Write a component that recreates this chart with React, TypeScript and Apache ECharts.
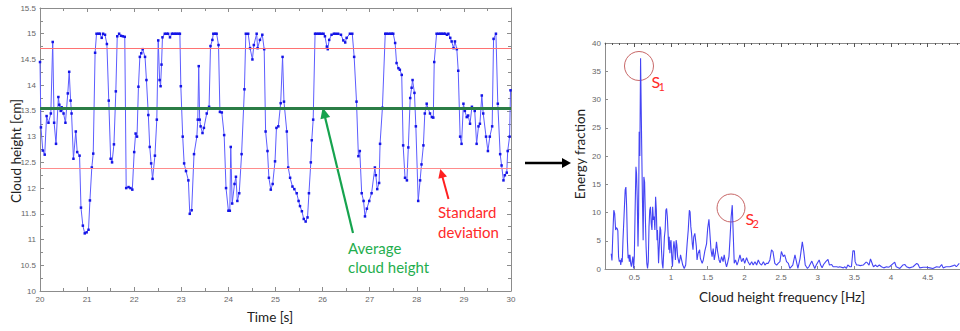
import React, { useEffect, useRef } from "react";
import * as echarts from "echarts";

// ---- Time series (left panel) ----
const time = [
  20.0, 20.02, 20.06, 20.1, 20.14, 20.18, 20.23, 20.27, 20.3, 20.34, 20.39, 20.41, 20.44, 20.46, 20.5, 20.54, 20.59, 20.62, 20.65, 20.67,
  20.71, 20.76, 20.79, 20.84, 20.87, 20.91, 20.95, 20.99, 21.03, 21.06, 21.1, 21.13, 21.17, 21.2, 21.24, 21.27, 21.31, 21.34, 21.38, 21.42,
  21.46, 21.5, 21.53, 21.57, 21.61, 21.64, 21.68, 21.72, 21.76, 21.8, 21.83, 21.88, 21.92, 21.96, 22.0, 22.03, 22.06, 22.09, 22.12, 22.15,
  22.18, 22.23, 22.26, 22.3, 22.33, 22.36, 22.39, 22.44, 22.48, 22.51, 22.54, 22.56, 22.58, 22.6, 22.65, 22.69, 22.72, 22.76, 22.8, 22.83,
  22.87, 22.9, 22.94, 22.97, 22.99, 23.03, 23.06, 23.1, 23.15, 23.18, 23.22, 23.27, 23.33, 23.35, 23.37, 23.39, 23.41, 23.45, 23.48, 23.54,
  23.59, 23.62, 23.66, 23.68, 23.72, 23.75, 23.79, 23.82, 23.86, 23.91, 23.95, 24.0, 24.03, 24.05, 24.08, 24.13, 24.16, 24.19, 24.23, 24.28,
  24.34, 24.37, 24.42, 24.46, 24.51, 24.54, 24.6, 24.62, 24.67, 24.72, 24.76, 24.79, 24.83, 24.86, 24.9, 24.94, 24.99, 25.02, 25.06, 25.11,
  25.15, 25.18, 25.24, 25.27, 25.31, 25.36, 25.4, 25.45, 25.49, 25.52, 25.56, 25.6, 25.64, 25.68, 25.71, 25.75, 25.77, 25.8, 25.84, 25.87,
  25.91, 25.94, 25.98, 26.02, 26.05, 26.09, 26.11, 26.14, 26.19, 26.24, 26.28, 26.33, 26.39, 26.44, 26.48, 26.51, 26.58, 26.63, 26.67, 26.72,
  26.76, 26.79, 26.83, 26.87, 26.9, 26.94, 26.99, 27.04, 27.11, 27.13, 27.16, 27.2, 27.22, 27.27, 27.33, 27.36, 27.4, 27.44, 27.47, 27.5,
  27.54, 27.57, 27.61, 27.64, 27.68, 27.71, 27.75, 27.79, 27.82, 27.86, 27.89, 27.91, 27.95, 27.98, 28.03, 28.07, 28.1, 28.14, 28.17, 28.21,
  28.24, 28.28, 28.32, 28.35, 28.37, 28.42, 28.46, 28.5, 28.53, 28.57, 28.6, 28.64, 28.67, 28.71, 28.74, 28.78, 28.81, 28.85, 28.88, 28.92,
  28.95, 28.99, 29.02, 29.06, 29.09, 29.13, 29.17, 29.23, 29.27, 29.31, 29.34, 29.38, 29.41, 29.47, 29.51, 29.55, 29.6, 29.63, 29.68, 29.72,
  29.77, 29.8, 29.84, 29.87, 29.91, 29.93, 29.97, 29.99,
];
const cloudHeight = [
  14.45, 13.18, 12.73, 12.65, 13.4, 13.27, 13.45, 14.84, 13.27, 12.86, 13.77, 13.62, 13.5, 13.57, 13.45, 13.27, 13.84, 14.26, 13.7, 13.45,
  12.57, 13.1, 12.7, 12.63, 11.62, 11.27, 11.12, 11.14, 11.19, 11.76, 12.4, 12.67, 14.63, 15.0, 15.0, 15.0, 14.92, 15.0, 14.98, 14.8,
  13.7, 12.57, 12.5, 12.85, 13.88, 14.95, 15.0, 14.96, 14.95, 14.94, 12.0, 12.02, 12.0, 11.97, 12.7, 13.06, 13.0, 13.97, 14.55, 14.62,
  14.7, 14.55, 14.1, 13.42, 12.8, 12.48, 12.18, 12.63, 13.33, 14.87, 14.1, 13.98, 14.4, 14.93, 15.0, 15.0, 15.0, 14.93, 15.0, 15.0,
  15.0, 15.0, 15.0, 15.0, 13.98, 13.0, 12.48, 12.33, 12.15, 11.5, 11.57, 12.66, 13.0, 13.33, 14.37, 13.33, 13.2, 13.07, 13.17, 13.45,
  13.58, 14.76, 14.88, 15.0, 15.0, 15.0, 14.78, 13.48, 13.47, 13.03, 12.0, 11.56, 11.56, 12.8, 11.7, 12.08, 12.22, 11.75, 11.9, 12.66,
  13.92, 15.0, 15.0, 14.72, 14.5, 14.78, 15.0, 14.72, 14.88, 14.98, 14.7, 13.1, 12.72, 12.2, 11.97, 12.08, 12.52, 13.17, 13.2, 13.65,
  14.55, 13.68, 13.1, 12.4, 12.2, 12.03, 11.98, 11.9, 11.75, 11.65, 11.55, 11.4, 11.35, 11.43, 11.9, 12.5, 12.93, 13.33, 15.0, 15.0,
  15.0, 15.0, 15.0, 15.0, 14.95, 14.75, 14.7, 14.88, 14.98, 15.0, 15.0, 15.0, 14.98, 14.87, 14.83, 14.92, 15.0, 15.0, 14.55, 13.68,
  12.62, 12.72, 11.9, 11.75, 11.45, 11.6, 11.75, 11.9, 12.4, 12.25, 11.98, 12.1, 12.86, 13.56, 15.0, 15.0, 15.0, 15.0, 15.0, 15.0,
  14.82, 14.43, 14.33, 14.3, 14.2, 12.83, 12.2, 12.15, 12.79, 13.75, 13.95, 14.1, 13.85, 13.2, 11.75, 12.15, 12.46, 12.83, 13.45, 13.64,
  13.55, 13.45, 13.38, 13.37, 14.45, 15.0, 15.0, 15.0, 15.0, 15.0, 15.0, 14.98, 15.0, 14.92, 14.85, 14.72, 14.85, 14.7, 14.28, 13.0,
  12.86, 13.64, 13.5, 13.38, 13.41, 13.25, 13.58, 13.5, 12.86, 13.2, 13.25, 13.8, 13.45, 13.0, 12.72, 13.0, 13.2, 14.9, 15.0, 13.64,
  12.66, 12.44, 12.15, 12.25, 12.3, 12.72, 13.0, 13.9,
];
const meanHeight = 13.55;
const stdLower = 12.39;
const stdUpper = 14.71;

// ---- Spectrum (right panel) ----
const frequency = [
  0.185, 0.195, 0.205, 0.22, 0.232, 0.245, 0.255, 0.265, 0.275, 0.285, 0.295, 0.305, 0.315, 0.325, 0.335, 0.345, 0.36, 0.375, 0.385, 0.395,
  0.405, 0.415, 0.425, 0.432, 0.44, 0.45, 0.46, 0.47, 0.48, 0.49, 0.5, 0.51, 0.522, 0.53, 0.54, 0.55, 0.558, 0.566, 0.575, 0.585,
  0.592, 0.6, 0.61, 0.62, 0.63, 0.64, 0.65, 0.66, 0.67, 0.68, 0.69, 0.7, 0.71, 0.72, 0.73, 0.74, 0.75, 0.76, 0.77, 0.78,
  0.79, 0.8, 0.81, 0.815, 0.825, 0.83, 0.84, 0.85, 0.86, 0.87, 0.88, 0.89, 0.9, 0.91, 0.92, 0.93, 0.94, 0.95, 0.96, 0.97,
  0.975, 0.985, 0.99, 1.0, 1.01, 1.02, 1.03, 1.04, 1.05, 1.06, 1.07, 1.08, 1.09, 1.1, 1.11, 1.12, 1.13, 1.14, 1.16, 1.17,
  1.18, 1.19, 1.2, 1.22, 1.235, 1.25, 1.26, 1.27, 1.28, 1.29, 1.3, 1.31, 1.325, 1.345, 1.355, 1.37, 1.39, 1.4, 1.425, 1.44,
  1.46, 1.485, 1.5, 1.517, 1.53, 1.545, 1.56, 1.575, 1.59, 1.605, 1.62, 1.635, 1.655, 1.67, 1.69, 1.71, 1.725, 1.745, 1.757, 1.77,
  1.79, 1.803, 1.82, 1.835, 1.848, 1.862, 1.88, 1.9, 1.916, 1.94, 1.962, 1.985, 2.005, 2.03, 2.05, 2.075, 2.1, 2.12, 2.145, 2.167,
  2.19, 2.21, 2.235, 2.26, 2.28, 2.3, 2.325, 2.348, 2.37, 2.39, 2.415, 2.44, 2.46, 2.485, 2.505, 2.53, 2.55, 2.575, 2.6, 2.62,
  2.66, 2.69, 2.71, 2.73, 2.76, 2.79, 2.81, 2.83, 2.86, 2.88, 2.92, 2.94, 2.96, 2.98, 3.02, 3.04, 3.06, 3.08, 3.11, 3.14,
  3.16, 3.19, 3.21, 3.26, 3.28, 3.3, 3.35, 3.37, 3.39, 3.41, 3.44, 3.46, 3.48, 3.5, 3.51, 3.53, 3.55, 3.58, 3.62, 3.66,
  3.67, 3.7, 3.72, 3.75, 3.76, 3.79, 3.81, 3.84, 3.87, 3.9, 3.94, 3.96, 3.98, 4.03, 4.05, 4.07, 4.12, 4.16, 4.19, 4.21,
  4.25, 4.3, 4.35, 4.37, 4.39, 4.44, 4.48, 4.53, 4.57, 4.62, 4.66, 4.69, 4.71, 4.75, 4.8, 4.85, 4.87, 4.89, 4.93,
];
const energyFraction = [
  2.7, 1.5, 5.5, 10.4, 9.8, 6.9, 7.3, 7.2, 6.8, 2.2, 1.3, 1.6, 0.7, 1.9, 1.2, 5.1, 9.5, 14.0, 14.5, 11.0,
  5.1, 1.9, 2.5, 1.3, 2.5, 1.0, 0.4, 1.3, 2.2, 0.1, 2.2, 10.0, 18.1, 16.9, 12.2, 4.0, 9.8, 24.3, 20.0, 37.3,
  30.0, 22.0, 12.8, 5.1, 16.3, 15.4, 9.2, 4.0, 1.0, 0.1, 1.3, 7.5, 10.4, 11.0, 8.1, 6.9, 11.0, 8.7, 9.3, 6.9,
  12.8, 10.4, 5.1, 6.9, 3.4, 1.0, 4.0, 7.5, 6.9, 3.4, 1.0, 0.1, 2.8, 5.7, 6.9, 10.4, 10.7, 9.2, 6.3, 3.4,
  5.7, 2.8, 4.5, 5.1, 2.2, 0.4, 3.4, 4.9, 3.7, 1.6, 5.1, 4.2, 2.2, 1.6, 1.0, 1.6, 2.5, 1.9, 0.7, 0.4,
  0.1, 0.4, 0.7, 4.5, 6.9, 10.4, 10.1, 7.5, 6.3, 4.5, 3.4, 5.7, 6.3, 4.0, 1.6, 2.8, 3.4, 1.9, 1.0, 1.6,
  3.1, 4.5, 7.2, 8.8, 6.3, 3.4, 2.2, 3.6, 1.6, 2.8, 4.8, 3.1, 1.6, 1.1, 2.2, 1.3, 2.5, 1.0, 0.4, 1.0,
  2.2, 5.1, 9.2, 11.3, 6.3, 1.0, 1.6, 0.7, 1.3, 2.5, 1.3, 1.9, 1.0, 2.0, 1.3, 0.7, 1.3, 0.7, 1.3, 0.7,
  1.6, 1.0, 0.7, 1.3, 0.7, 1.0, 1.0, 1.6, 3.4, 3.1, 1.0, 0.7, 1.0, 1.3, 3.1, 2.2, 2.5, 1.3, 1.0, 0.1,
  0.7, 2.5, 1.3, 0.1, 1.9, 4.8, 3.1, 0.7, 0.1, 0.4, 1.4, 0.7, 0.1, 0.7, 1.6, 0.7, 0.2, 0.8, 1.3, 1.7,
  0.7, 0.8, 0.4, 0.4, 0.3, 0.4, 0.2, 0.4, 0.1, 0.7, 0.4, 0.4, 3.2, 3.2, 1.3, 0.7, 0.7, 0.6, 0.7, 1.2,
  1.2, 0.7, 1.8, 0.7, 0.4, 0.7, 0.4, 0.7, 0.4, 0.2, 0.4, 0.3, 0.4, 1.0, 1.2, 0.4, 0.1, 0.7, 0.8, 0.4,
  0.2, 0.4, 1.0, 0.8, 0.2, 0.3, 0.3, 0.2, 0.1, 0.4, 0.3, 0.8, 0.2, 0.4, 0.4, 0.6, 0.7, 0.4, 1.0,
];
const freqLabelValues = [0.5, 1, 1.5, 2, 2.5, 3, 3.5, 4, 4.5];

const AXIS_GRAY = "#8c8c8c";
const LABEL_GRAY = "#666666";
const TITLE_FONT = "Lato";

function arrow(x1: number, y1: number, x2: number, y2: number, color: string, lw: number, hl: number, hw: number) {
  const dx = x2 - x1, dy = y2 - y1, L = Math.hypot(dx, dy);
  const ux = dx / L, uy = dy / L;
  const bx = x2 - ux * hl, by = y2 - uy * hl;
  return [
    { type: "line", silent: true, shape: { x1, y1, x2: bx + ux, y2: by + uy }, style: { stroke: color, lineWidth: lw } },
    {
      type: "polygon", silent: true,
      shape: { points: [[x2, y2], [bx - uy * hw, by + ux * hw], [bx + uy * hw, by - ux * hw]] },
      style: { fill: color },
    },
  ];
}

function txt(text: string, x: number, y: number, color: string, size: number, align = "left", rotation = 0) {
  return {
    type: "text", silent: true, x, y, rotation,
    style: { text, fill: color, font: `${size}px ${TITLE_FONT}`, textAlign: align, textVerticalAlign: "middle", verticalAlign: "middle" },
  };
}

export default function App() {
  const ref = useRef<HTMLDivElement>(null);
  useEffect(() => {
    if (!ref.current) return;
    const chart = echarts.init(ref.current, undefined, { renderer: "svg" });
    const tickLabel = { fontSize: 8, color: LABEL_GRAY, fontFamily: "Liberation Sans" };
    const axisLine = { show: true, lineStyle: { color: AXIS_GRAY, width: 1 } };

    const option: any = {
      animation: false,
      backgroundColor: "#ffffff",
      grid: [
        { left: 40, top: 8, width: 471, height: 283 },
        { left: 605, top: 43, right: 0, height: 226 },
      ],
      xAxis: [
        {
          gridIndex: 0, type: "value", position: "bottom", min: 20, max: 30, interval: 1,
          axisLine, axisTick: { inside: true, length: 4, lineStyle: { color: AXIS_GRAY } },
          minorTick: { show: true, splitNumber: 2, length: 3, lineStyle: { color: AXIS_GRAY } },
          axisLabel: { ...tickLabel, margin: 4 }, splitLine: { show: false }, minorSplitLine: { show: false },
        },
        {
          gridIndex: 0, type: "value", position: "top", min: 20, max: 30, interval: 1,
          axisLine, axisTick: { inside: true, length: 4, lineStyle: { color: AXIS_GRAY } },
          minorTick: { show: true, splitNumber: 2, length: 3, lineStyle: { color: AXIS_GRAY } },
          axisLabel: { show: false }, splitLine: { show: false },
        },
        {
          gridIndex: 1, type: "value", position: "bottom", min: 0.1, max: 4.94,
          axisLine, axisTick: { inside: true, length: 3, customValues: freqLabelValues, lineStyle: { color: AXIS_GRAY } },
          axisLabel: { ...tickLabel, margin: 4, customValues: freqLabelValues }, splitLine: { show: false },
        },
        {
          gridIndex: 1, type: "value", position: "top", min: 0.1, max: 4.94, interval: 0.1,
          axisLine, axisTick: { inside: true, length: 2, lineStyle: { color: "#555" } },
          axisLabel: { show: false }, splitLine: { show: false },
        },
        {
          gridIndex: 1, type: "value", position: "top", min: 0.1, max: 4.94,
          axisLine: { show: false },
          axisTick: { inside: true, length: 4, customValues: freqLabelValues, lineStyle: { color: "#555" } },
          axisLabel: { show: false, customValues: freqLabelValues }, splitLine: { show: false },
        },
      ],
      yAxis: [
        {
          gridIndex: 0, type: "value", position: "left", min: 10, max: 15.5, interval: 0.5,
          axisLine, axisTick: { inside: true, length: 4, lineStyle: { color: AXIS_GRAY } },
          minorTick: { show: true, splitNumber: 2, length: 3, lineStyle: { color: AXIS_GRAY } },
          axisLabel: { ...tickLabel, margin: 4 }, splitLine: { show: false },
        },
        {
          gridIndex: 0, type: "value", position: "right", min: 10, max: 15.5, interval: 0.5,
          axisLine, axisTick: { inside: true, length: 4, lineStyle: { color: AXIS_GRAY } },
          minorTick: { show: true, splitNumber: 2, length: 3, lineStyle: { color: AXIS_GRAY } },
          axisLabel: { show: false }, splitLine: { show: false },
        },
        {
          gridIndex: 1, type: "value", position: "left", min: 0, max: 40, interval: 5,
          axisLine, axisTick: { inside: true, length: 3, lineStyle: { color: AXIS_GRAY } },
          axisLabel: { ...tickLabel, margin: 4 }, splitLine: { show: false },
        },
      ],
      series: [
        {
          type: "line", xAxisIndex: 0, yAxisIndex: 0,
          data: time.map((t, i) => [t, cloudHeight[i]]),
          symbol: "rect", symbolSize: 2.5, showSymbol: true,
          lineStyle: { color: "#5c5cff", width: 1 },
          itemStyle: { color: "#1414e6" },
          z: 3,
          markLine: {
            silent: true, symbol: "none", label: { show: false },
            data: [
              { yAxis: stdUpper, lineStyle: { color: "#ff7272", width: 1, type: "solid" } },
              { yAxis: stdLower, lineStyle: { color: "#ff8c8c", width: 1, type: "solid" } },
              { yAxis: meanHeight, lineStyle: { color: "#2b7d46", width: 3, type: "solid" } },
            ],
          },
        },
        {
          type: "line", xAxisIndex: 2, yAxisIndex: 2,
          data: frequency.map((f, i) => [f, energyFraction[i]]),
          symbol: "none",
          lineStyle: { color: "#4444f4", width: 1.1 },
        },
      ],
      graphic: [
        txt("Cloud height [cm]", 16, 151, "#222", 13.5, "center", Math.PI / 2),
        txt("Time [s]", 270, 317, "#222", 13.5, "center"),
        txt("Energy fraction", 580, 154, "#222", 13.5, "center", Math.PI / 2),
        txt("Cloud height frequency [Hz]", 782, 297, "#222", 13.5, "center"),
        ...arrow(353, 233, 322.7, 107.5, "#16a34e", 2.2, 11, 5),
        ...arrow(448.5, 199, 440.3, 169, "#ff2020", 2, 9, 4.5),
        ...arrow(525, 163, 571, 163, "#000000", 2.5, 9, 5),
        txt("Average", 348, 248, "#1fae4e", 15),
        txt("cloud height", 348, 267, "#1fae4e", 15),
        txt("Standard", 438, 212, "#ff2a2a", 15),
        txt("deviation", 438, 232, "#ff2a2a", 15),
        { type: "circle", silent: true, shape: { cx: 639, cy: 66, r: 14.5 }, style: { fill: "none", stroke: "#c86868", lineWidth: 1 } },
        { type: "circle", silent: true, shape: { cx: 731, cy: 208, r: 14 }, style: { fill: "none", stroke: "#c86868", lineWidth: 1 } },
        txt("S", 651.5, 81, "#ff2a2a", 16),
        txt("1", 658.5, 86.5, "#ff2a2a", 11),
        txt("S", 745.5, 218.5, "#ff2a2a", 16),
        txt("2", 752.5, 223, "#ff2a2a", 11),
      ],
    };
    chart.setOption(option);
    return () => chart.dispose();
  }, []);
  return (
    <div
      ref={ref}
      style={{ position: "fixed", left: 0, top: 0, width: 960, height: 331, background: "#fff" }}
    />
  );
}
